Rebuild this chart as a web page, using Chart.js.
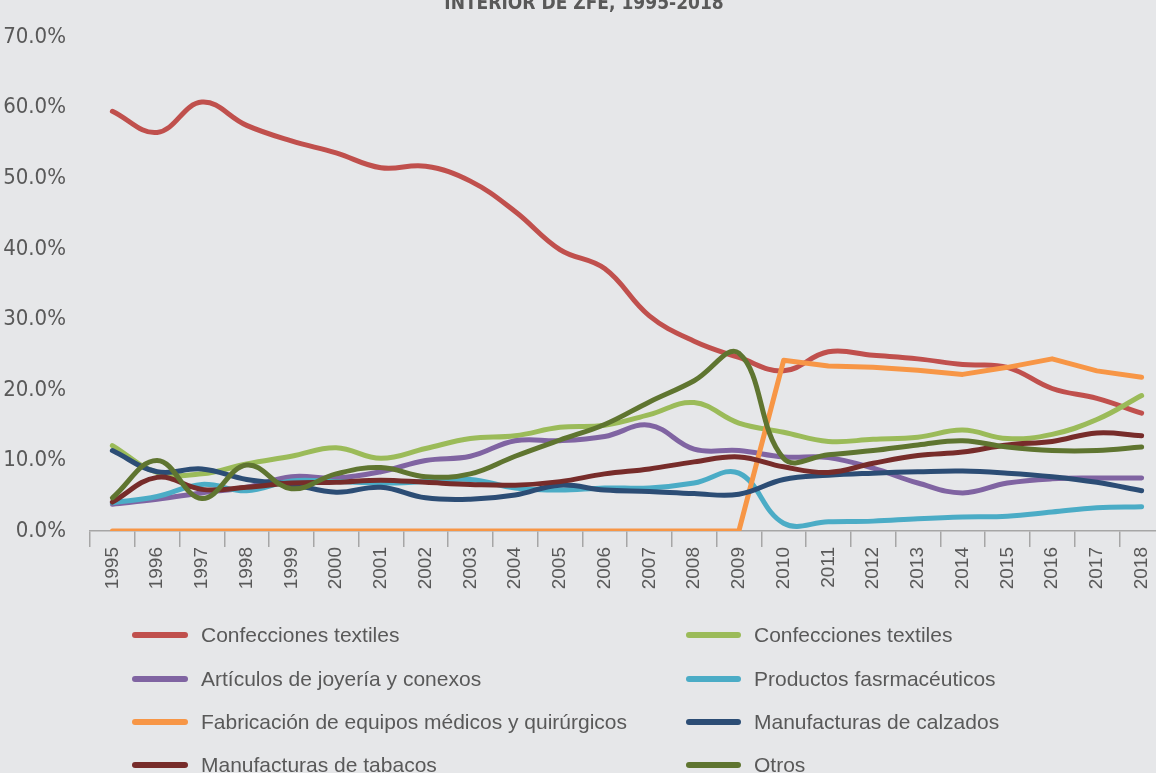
<!DOCTYPE html>
<html><head><meta charset="utf-8">
<script src="https://cdn.jsdelivr.net/npm/chart.js@4.4.0/dist/chart.umd.min.js"></script>
<style>
html,body{margin:0;padding:0;background:#E6E7E9;overflow:hidden;width:1156px;height:773px;}
#wrap{position:absolute;left:0;top:0;width:1170px;height:601px;}
#legend{position:absolute;left:0;top:0;width:1156px;height:773px;pointer-events:none;font-family:"Liberation Sans",Arial,sans-serif;font-size:21px;color:#595959;}
.item{position:absolute;height:24px;line-height:24px;white-space:nowrap;}
</style></head><body>
<div id="wrap"><canvas id="c" width="1170" height="601"></canvas></div>
<div id="legend"></div>
<script>
const chartTitle = 'INTERIOR DE ZFE, 1995-2018';
const years = ['1995','1996','1997','1998','1999','2000','2001','2002','2003','2004','2005','2006','2007','2008','2009','2010','2011','2012','2013','2014','2015','2016','2017','2018'];
const yTicks = [0,10,20,30,40,50,60,70];

const seriesNames = [
  'Confecciones textiles',
  'Confecciones textiles',
  'Artículos de joyería y conexos',
  'Productos fasrmacéuticos',
  'Fabricación de equipos médicos y quirúrgicos',
  'Manufacturas de calzados',
  'Manufacturas de tabacos',
  'Otros'
];
const seriesColors = ['#C0504D','#9BBB59','#8064A2','#4BACC6','#F79646','#2C4D75','#772C2A','#5F7530'];

const confeccionesA = [59.5,56.5,60.8,57.5,55.3,53.6,51.5,51.7,49.6,45.3,39.9,37.2,30.5,26.9,24.6,22.7,25.4,24.9,24.4,23.6,23.2,20.2,18.8,16.7];
const confeccionesB = [12.1,8.3,8.1,9.5,10.6,11.8,10.3,11.7,13.1,13.5,14.7,15.0,16.5,18.2,15.3,14.0,12.7,13.0,13.3,14.3,13.1,13.7,15.8,19.2];
const joyeria       = [3.8,4.5,5.4,6.2,7.7,7.5,8.4,10.0,10.6,12.8,12.8,13.4,15.0,11.6,11.4,10.5,10.4,8.9,6.8,5.4,6.8,7.4,7.5,7.5];
const farmaceuticos = [4.0,4.9,6.6,5.7,7.1,7.0,6.8,7.0,7.3,6.1,5.8,6.1,6.1,6.8,8.2,1.1,1.3,1.4,1.75,2.0,2.1,2.7,3.3,3.45];
const equiposMedicos= [0,0,0,0,0,0,0,0,0,0,0,0,0,0,0,24.2,23.4,23.2,22.8,22.2,23.2,24.4,22.7,21.8];
const calzados      = [11.4,8.4,8.8,7.3,6.6,5.5,6.2,4.7,4.5,5.1,6.5,5.8,5.6,5.3,5.2,7.3,7.9,8.2,8.4,8.5,8.2,7.7,6.9,5.7];
const tabacos       = [4.1,7.6,5.9,6.2,6.8,6.9,7.2,6.9,6.6,6.5,7.0,8.1,8.8,9.8,10.5,9.1,8.3,9.6,10.7,11.2,12.2,12.7,13.9,13.5];
const otros         = [4.7,10.0,4.6,9.35,6.0,8.1,9.0,7.7,8.1,10.6,12.9,15.1,18.3,21.3,25.2,10.3,10.8,11.4,12.2,12.8,11.9,11.4,11.4,11.9];

const seriesData = [confeccionesA, confeccionesB, joyeria, farmaceuticos, equiposMedicos, calzados, tabacos, otros];

const datasets = seriesData.map((d, i) => ({
  label: seriesNames[i],
  data: d,
  borderColor: seriesColors[i],
  backgroundColor: seriesColors[i],
  borderWidth: 5,
  tension: i === 4 ? 0 : 0.4,
  pointRadius: 0,
  fill: false,
  order: -i,
  borderCapStyle: 'round',
  borderJoinStyle: 'round'
}));

const narrow = '"Liberation Sans Narrow", "Arial Narrow", "DejaVu Sans Condensed", sans-serif';
const regular = '"Liberation Sans", Arial, sans-serif';

const titlePlugin = {
  id: 'cutTitle',
  afterDraw(chart) {
    const ctx = chart.ctx;
    ctx.save();
    ctx.font = 'bold 19px ' + narrow;
    ctx.fillStyle = '#595959';
    ctx.textAlign = 'center';
    ctx.textBaseline = 'alphabetic';
    ctx.fillText(chartTitle, 584, 9);
    ctx.restore();
  }
};

new Chart(document.getElementById('c'), {
  type: 'line',
  data: { labels: years, datasets },
  options: {
    responsive: false,
    animation: false,
    devicePixelRatio: 1,
    layout: { padding: { top: 24, right: 6, left: 0, bottom: 0 } },
    plugins: { legend: { display: false }, tooltip: { enabled: false }, title: { display: false } },
    scales: {
      x: {
        offset: true,
        grid: { display: true, drawOnChartArea: false, drawTicks: true, tickLength: 16, color: '#A6A6A6', lineWidth: 1.5, offset: true },
        border: { display: true, color: '#A6A6A6', width: 1.5 },
        ticks: { autoSkip: false, maxRotation: 90, minRotation: 90, padding: 0, color: '#595959', font: { family: regular, size: 19 } },
        afterFit: s => { s.height = 70; }
      },
      y: {
        min: 0, max: 70,
        afterBuildTicks: s => { s.ticks = yTicks.map(v => ({ value: v })); },
        grid: { display: false, drawTicks: false },
        border: { display: false },
        ticks: { padding: 24, color: '#595959', font: { family: narrow, size: 22 }, callback: v => Number(v).toFixed(1) + '%' },
        afterFit: s => { s.width = 90; }
      }
    }
  },
  plugins: [titlePlugin]
});

// HTML legend (two columns, row-major like the source)
const legend = document.getElementById('legend');
const rowsY = [635, 679, 722, 765];
const cols = [{ lx: 132, lw: 56, tx: 201 }, { lx: 686, lw: 55, tx: 754 }];
seriesNames.forEach((name, i) => {
  const r = Math.floor(i / 2), c = i % 2;
  const sw = document.createElement('div');
  sw.style.cssText = `position:absolute;left:${cols[c].lx}px;top:${rowsY[r]-3}px;width:${cols[c].lw}px;height:6px;border-radius:3px;background:${seriesColors[i]}`;
  legend.appendChild(sw);
  const t = document.createElement('div');
  t.className = 'item';
  t.style.left = cols[c].tx + 'px';
  t.style.top = (rowsY[r] - 12) + 'px';
  t.textContent = name;
  legend.appendChild(t);
});
</script>
</body></html>
